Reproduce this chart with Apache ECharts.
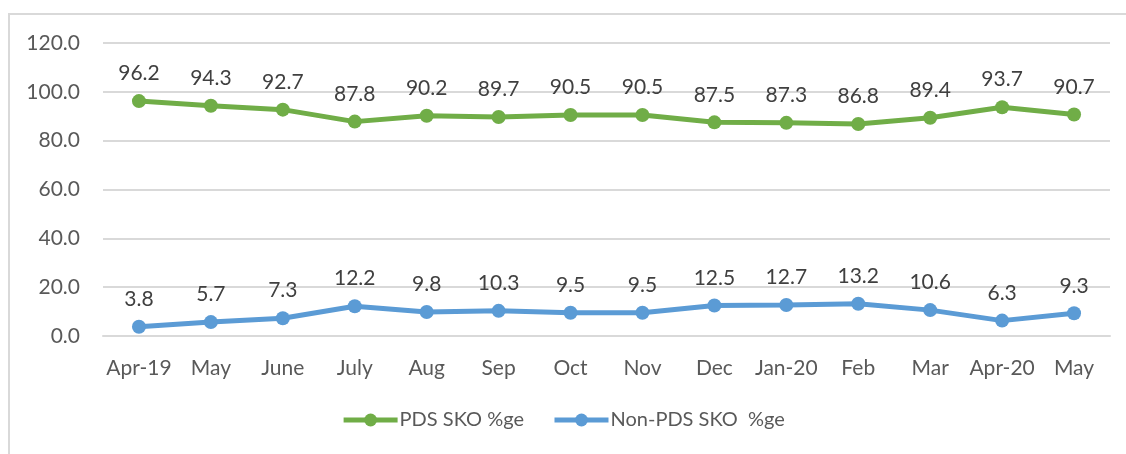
<!DOCTYPE html>
<html><head><meta charset="utf-8">
<script src="https://cdn.jsdelivr.net/npm/echarts@6/dist/echarts.min.js"></script>
<style>html,body{margin:0;padding:0;background:#fff}#c{width:1126px;height:454px}</style>
</head><body><div id="c"></div>
<script>
const categories = ['Apr-19','May','June','July','Aug','Sep','Oct','Nov','Dec','Jan-20','Feb','Mar','Apr-20','May'];
const pdsValues = [96.2,94.3,92.7,87.8,90.2,89.7,90.5,90.5,87.5,87.3,86.8,89.4,93.7,90.7];
const nonPdsValues = [3.8,5.7,7.3,12.2,9.8,10.3,9.5,9.5,12.5,12.7,13.2,10.6,6.3,9.3];
const seriesNames = ['PDS SKO %ge','Non-PDS SKO  %ge'];
const FONT = 'Lato';
const FS = 21;
const chart = echarts.init(document.getElementById('c'));
const mk = (name, data, color) => ({
  name, type: 'line', data,
  symbol: 'circle', symbolSize: 14,
  lineStyle: {width: 5, color},
  itemStyle: {color},
  label: {show: true, position: 'top', distance: 10, color: '#404040', fontSize: FS, fontFamily: FONT,
          formatter: p => p.value.toFixed(1)},
  emphasis: {disabled: true}
});
chart.setOption({
  animation: false,
  textStyle: {fontFamily: FONT},
  graphic: [{type: 'rect', shape: {x: 9, y: 14, width: 1300, height: 600},
             style: {fill: 'none', stroke: '#d9d9d9', lineWidth: 2}, silent: true}],
  grid: {left: 103, right: 16, top: 43, bottom: 118},
  legend: {
    bottom: 19, left: 'center', itemWidth: 54, itemHeight: 16, itemGap: 28,
    lineStyle: {width: 5},
    textStyle: {color: '#595959', fontSize: 20, fontFamily: FONT, padding: [0, 0, 0, -3]},
    data: seriesNames
  },
  xAxis: {
    type: 'category', data: categories, boundaryGap: true,
    axisLine: {show: true, lineStyle: {color: '#d9d9d9', width: 2}},
    axisTick: {show: false},
    axisLabel: {color: '#595959', fontSize: FS, fontFamily: FONT, margin: 22, interval: 0}
  },
  yAxis: {
    type: 'value', min: 0, max: 120, interval: 20,
    axisLine: {show: false}, axisTick: {show: false},
    splitLine: {lineStyle: {color: '#d9d9d9', width: 2}},
    axisLabel: {color: '#595959', fontSize: FS, fontFamily: FONT, margin: 23,
                formatter: v => v.toFixed(1)}
  },
  series: [mk(seriesNames[0], pdsValues, '#70AD47'), mk(seriesNames[1], nonPdsValues, '#5B9BD5')]
});
</script></body></html>
